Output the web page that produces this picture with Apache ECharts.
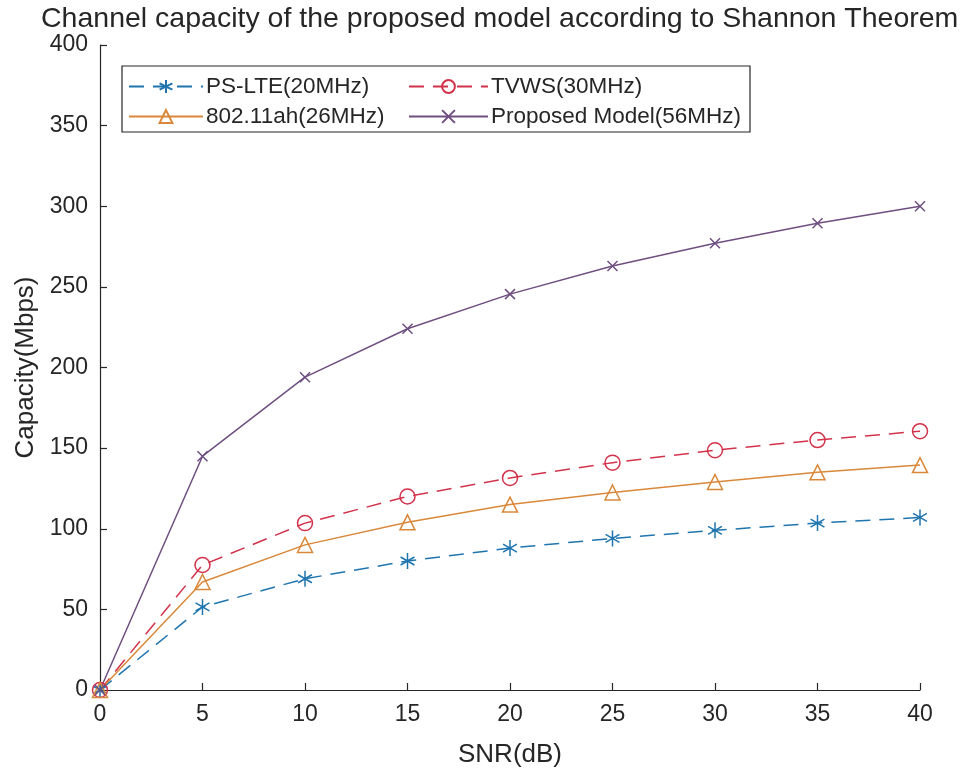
<!DOCTYPE html>
<html>
<head>
<meta charset="utf-8">
<script src="https://cdn.jsdelivr.net/npm/echarts@6/dist/echarts.min.js"></script>
<style>
html,body{margin:0;padding:0;background:#fff;}
#chart{width:965px;height:773px;}
</style>
</head>
<body>
<div id="chart"></div>
<script>
const snrValues = [0, 5, 10, 15, 20, 25, 30, 35, 40];
const psLte = [0, 51.5, 69, 80, 88, 94, 99, 103.5, 107];
const tvws = [0, 77.5, 103.5, 120, 131.5, 141, 148.7, 155, 160.5];
const ah80211 = [0, 67, 90, 104, 115, 122.5, 129, 135, 139.5];
const proposed = [0, 145, 194, 224, 245.5, 263, 277, 289.5, 300];
const seriesNames = ['PS-LTE(20MHz)', 'TVWS(30MHz)', '802.11ah(26MHz)', 'Proposed Model(56MHz)'];
const titleText = 'Channel capacity of the proposed model according to Shannon Theorem';
const xName = 'SNR(dB)';
const yName = 'Capacity(Mbps)';

const FONT = 'Liberation Sans, Arial, Helvetica, sans-serif';
const AXIS = '#262626';
const pair = (xs, ys) => xs.map((x, i) => [x, ys[i]]);

const asterisk = 'path://M5,0L5,10M0.67,2.5L9.33,7.5M0.67,7.5L9.33,2.5';
const cross = 'path://M0,0L10,10M0,10L10,0';

const C_BLUE = '#1F75AE';
const C_RED = '#D2334B';
const C_ORANGE = '#D9883A';
const C_PURPLE = '#6E4F80';

function mk(name, data, color, symbol, size, dashed) {
  return {
    name: name,
    type: 'line',
    data: pair(snrValues, data),
    symbol: symbol,
    symbolSize: size,
    symbolKeepAspect: true,
    showAllSymbol: true,
    animation: false,
    lineStyle: { color: color, width: 1.5, type: dashed ? [15, 9] : 'solid' },
    itemStyle: { color: 'transparent', borderColor: color, borderWidth: 1.5 }
  };
}

const chart = echarts.init(document.getElementById('chart'), null, { renderer: 'canvas' });

function legendAt(name, left, top, w) {
  return {
    data: [name], left: left, top: top, orient: 'horizontal', padding: 0,
    itemWidth: w, itemHeight: 16, itemGap: 0, selectedMode: false,
    textStyle: { fontFamily: FONT, fontSize: 22.5, color: AXIS, padding: [0, 0, 0, -2] }
  };
}

chart.setOption({
  backgroundColor: '#fff',
  animation: false,
  title: {
    text: titleText, left: 36, top: 0,
    textStyle: { fontFamily: FONT, fontSize: 28.5, fontWeight: 'normal', color: AXIS }
  },
  legend: [
    legendAt(seriesNames[0], 128, 75, 74),
    legendAt(seriesNames[1], 408, 75, 79),
    legendAt(seriesNames[2], 128, 105, 74),
    legendAt(seriesNames[3], 408, 105, 79)
  ],
  graphic: [{
    type: 'rect', shape: { x: 122, y: 66, width: 628, height: 66 },
    style: { fill: 'none', stroke: AXIS, lineWidth: 1.2 }, z: 100
  }],
  grid: { left: 100, right: 45, top: 45, bottom: 81, containLabel: false },
  xAxis: {
    type: 'value', min: 0, max: 40, interval: 5,
    name: xName, nameLocation: 'middle', nameGap: 52,
    nameTextStyle: { fontFamily: FONT, fontSize: 26, color: AXIS },
    axisLine: { show: true, onZero: false, lineStyle: { color: AXIS, width: 1.2 } },
    axisTick: { show: true, inside: true, length: 7, lineStyle: { color: AXIS, width: 1.2 } },
    axisLabel: { fontFamily: FONT, fontSize: 23, color: AXIS, margin: 13 },
    splitLine: { show: false }
  },
  yAxis: {
    type: 'value', min: 0, max: 400, interval: 50,
    name: yName, nameLocation: 'middle', nameGap: 60, nameRotate: 90,
    nameTextStyle: { fontFamily: FONT, fontSize: 26, color: AXIS },
    axisLine: { show: true, onZero: false, lineStyle: { color: AXIS, width: 1.2 } },
    axisTick: { show: true, inside: true, length: 7, lineStyle: { color: AXIS, width: 1.2 } },
    axisLabel: { fontFamily: FONT, fontSize: 23, color: AXIS, margin: 12 },
    splitLine: { show: false }
  },
  series: [
    mk(seriesNames[0], psLte, C_BLUE, asterisk, 16, true),
    mk(seriesNames[1], tvws, C_RED, 'circle', 15, true),
    mk(seriesNames[2], ah80211, C_ORANGE, 'triangle', 15, false),
    mk(seriesNames[3], proposed, C_PURPLE, cross, 10, false)
  ]
});
</script>
</body>
</html>
